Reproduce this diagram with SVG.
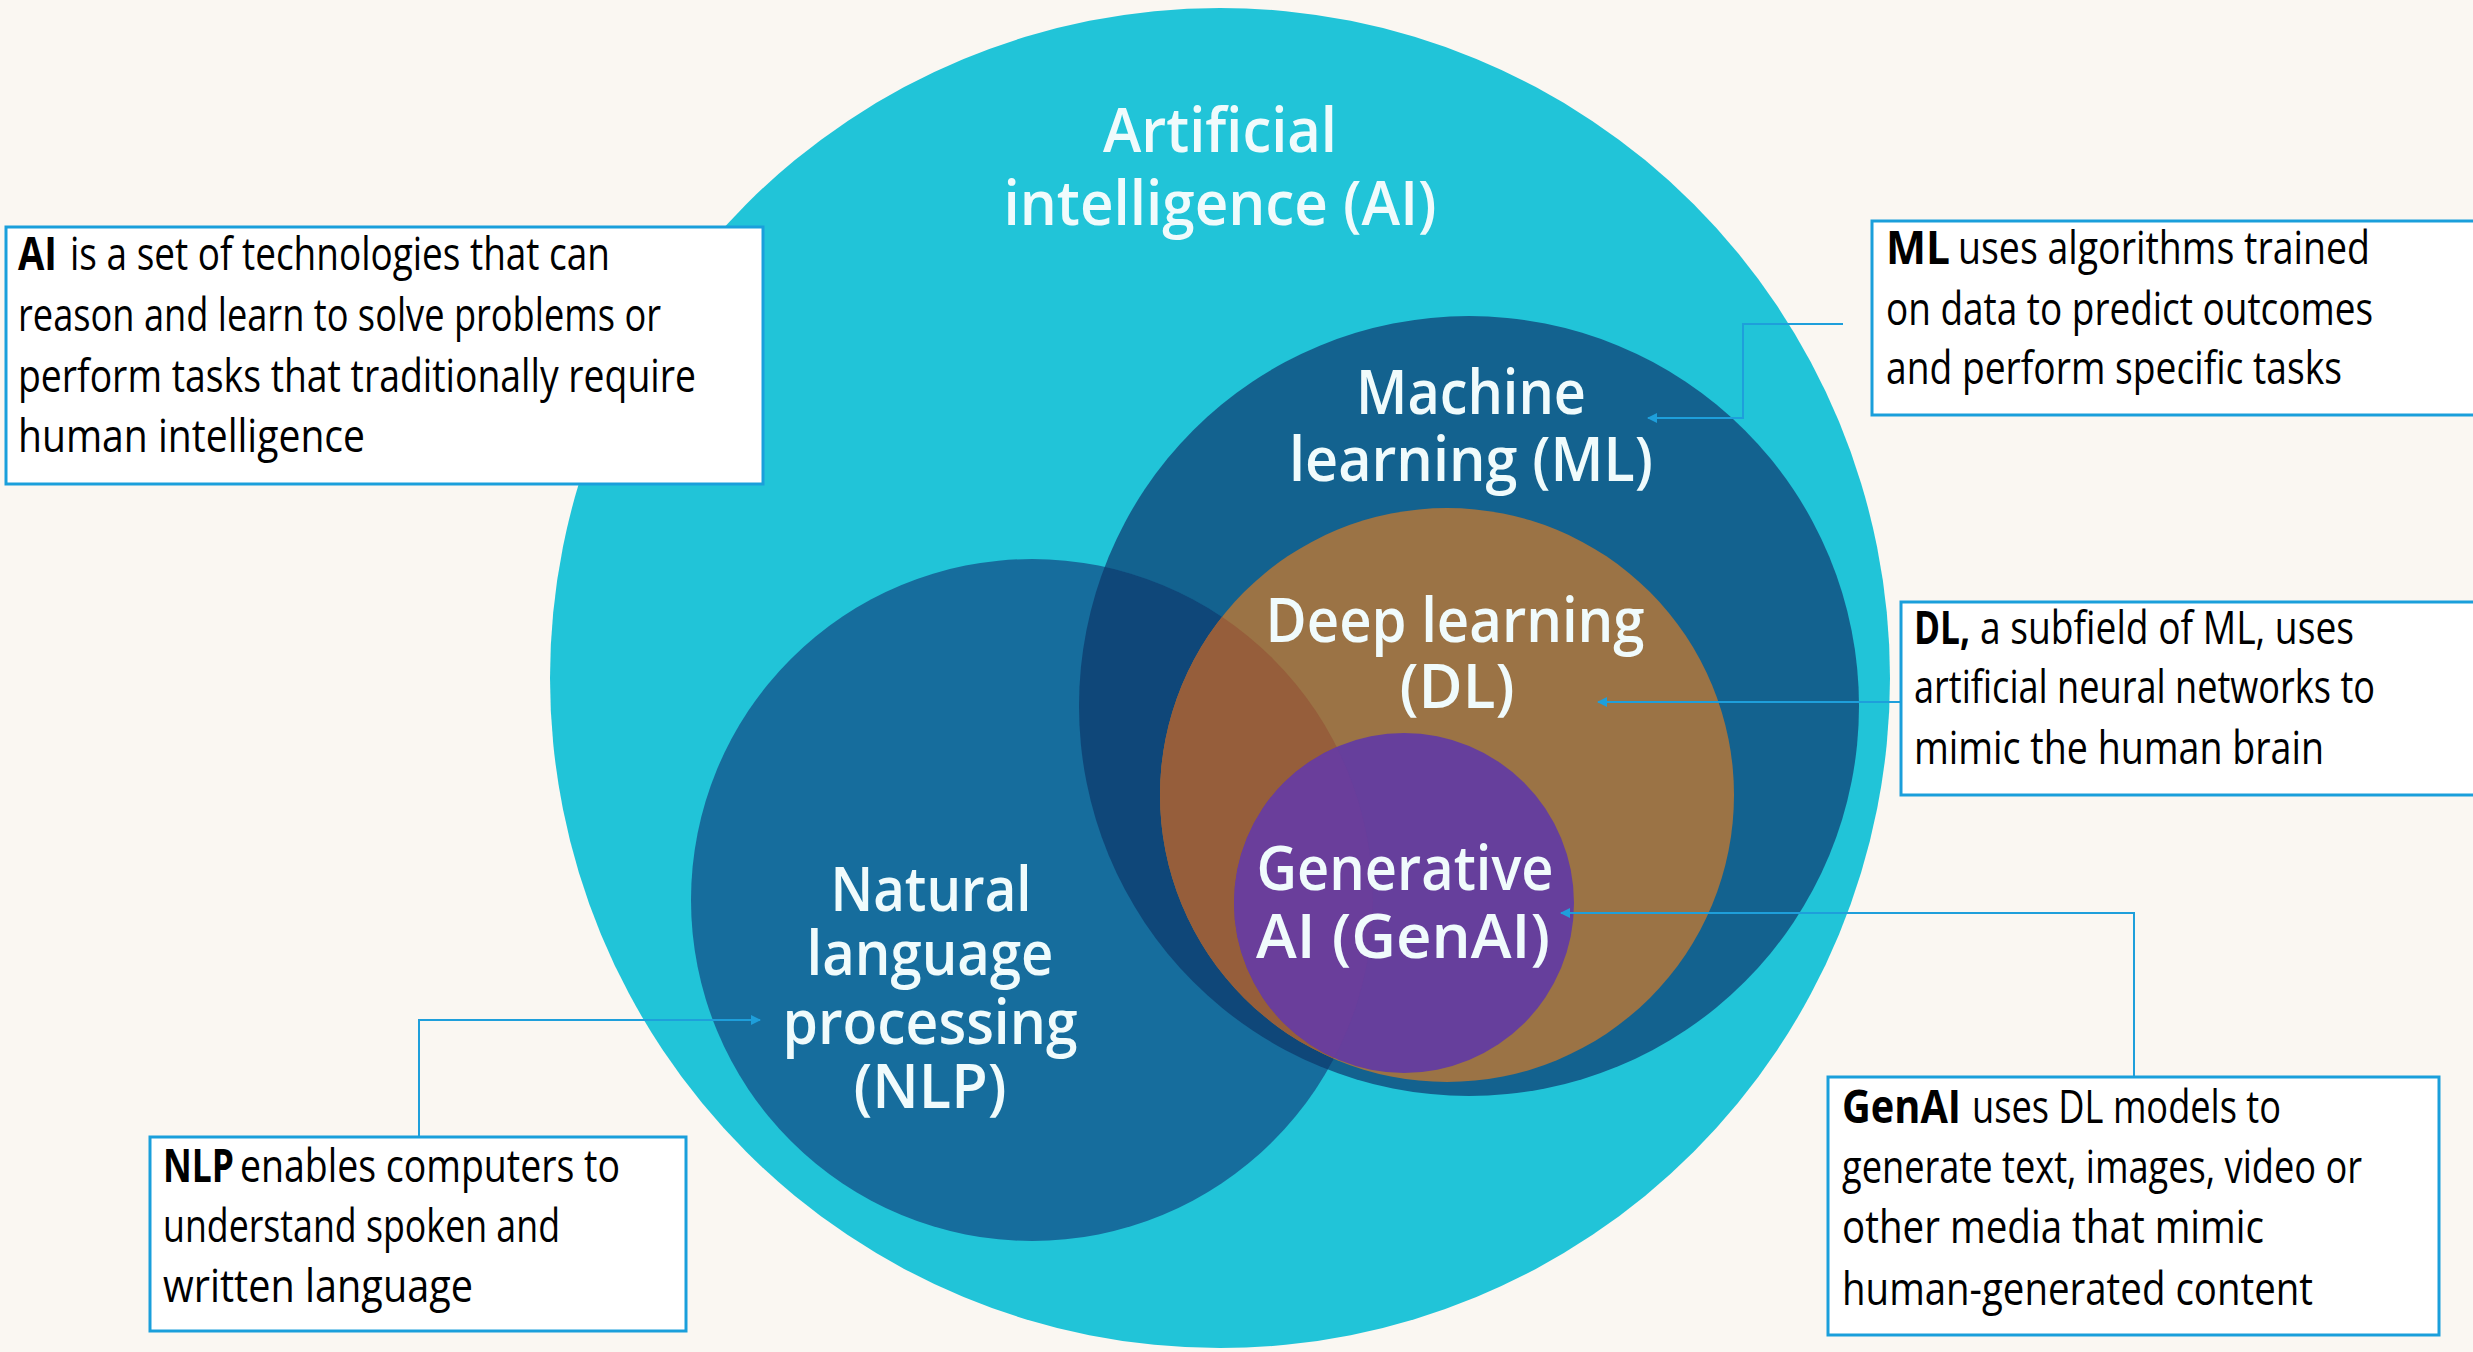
<svg xmlns="http://www.w3.org/2000/svg" width="2473" height="1352" viewBox="0 0 2473 1352">
<style>
.lbl{font-family:"Open Sans","Noto Sans",sans-serif;font-weight:600;font-size:62px;fill:#F0FBFC;text-anchor:middle}
.box{fill:#FFFFFF;stroke:#1A9FDB;stroke-width:3}
.t{font-family:"Liberation Sans Narrow","Open Sans","Noto Sans",sans-serif;font-size:46px;fill:#000000}
.b{font-weight:700}
.conn{fill:none;stroke:#1E9FDB;stroke-width:2}
</style>
<defs>
<clipPath id="clipNLP"><circle cx="1032" cy="900" r="341"/></clipPath>
<marker id="arr" viewBox="0 0 10 10" refX="9" refY="5" markerWidth="5" markerHeight="5" orient="auto" markerUnits="strokeWidth">
<path d="M0,0 L10,5 L0,10 z" fill="#1E9FDB"/>
</marker>
</defs>
<rect x="0" y="0" width="2473" height="1352" fill="#FAF7F2"/>
<g id="node-ai">
<circle cx="1220" cy="678" r="670" fill="#21C4D8"/>
<text class="lbl" x="1220" y="152" textLength="234" lengthAdjust="spacingAndGlyphs">Artificial</text>
<text class="lbl" x="1220" y="225" textLength="433" lengthAdjust="spacingAndGlyphs">intelligence (AI)</text>
</g>
<g id="node-ml">
<circle cx="1469" cy="706" r="390" fill="#13628F"/>
<text class="lbl" x="1471" y="414" textLength="230" lengthAdjust="spacingAndGlyphs">Machine</text>
<text class="lbl" x="1471" y="481" textLength="364" lengthAdjust="spacingAndGlyphs">learning (ML)</text>
</g>
<g id="node-nlp">
<circle cx="1032" cy="900" r="341" fill="#166D9D"/>
<circle cx="1469" cy="706" r="390" fill="#0F4779" clip-path="url(#clipNLP)"/>
<text class="lbl" x="931" y="911" textLength="201" lengthAdjust="spacingAndGlyphs">Natural</text>
<text class="lbl" x="930" y="975" textLength="247" lengthAdjust="spacingAndGlyphs">language</text>
<text class="lbl" x="930" y="1044" textLength="295" lengthAdjust="spacingAndGlyphs">processing</text>
<text class="lbl" x="930" y="1108" textLength="153" lengthAdjust="spacingAndGlyphs">(NLP)</text>
</g>
<g id="node-dl">
<circle cx="1447" cy="795" r="287" fill="#9B7345"/>
<circle cx="1447" cy="795" r="287" fill="#965E3B" clip-path="url(#clipNLP)"/>
<text class="lbl" x="1455" y="642" textLength="379" lengthAdjust="spacingAndGlyphs">Deep learning</text>
<text class="lbl" x="1457" y="708" textLength="115" lengthAdjust="spacingAndGlyphs">(DL)</text>
</g>
<g id="node-genai">
<circle cx="1404" cy="903" r="170" fill="#663F9C"/>
<circle cx="1404" cy="903" r="170" fill="#6A3E9B" clip-path="url(#clipNLP)"/>
<text class="lbl" x="1405" y="890" textLength="297" lengthAdjust="spacingAndGlyphs">Generative</text>
<text class="lbl" x="1403" y="958" textLength="294" lengthAdjust="spacingAndGlyphs">AI (GenAI)</text>
</g>
<g id="connectors">
<path class="conn" d="M1843,324 H1743 V418 H1648" marker-end="url(#arr)"/>
<path class="conn" d="M1901,702 H1598" marker-end="url(#arr)"/>
<path class="conn" d="M2134,1077 V913 H1561" marker-end="url(#arr)"/>
<path class="conn" d="M419,1137 V1020 H760" marker-end="url(#arr)"/>
</g>
<g id="callout-ai">
<rect class="box" x="6" y="227" width="757" height="257"/>
<text class="t b" x="18" y="270" textLength="39" lengthAdjust="spacingAndGlyphs">AI</text>
<text class="t" x="70" y="270" textLength="540" lengthAdjust="spacingAndGlyphs">is a set of technologies that can</text>
<text class="t" x="18" y="331" textLength="643" lengthAdjust="spacingAndGlyphs">reason and learn to solve problems or</text>
<text class="t" x="18" y="392" textLength="678" lengthAdjust="spacingAndGlyphs">perform tasks that traditionally  require</text>
<text class="t" x="18" y="452" textLength="347" lengthAdjust="spacingAndGlyphs">human intelligence</text>
</g>
<g id="callout-ml">
<rect class="box" x="1872" y="221" width="605" height="194"/>
<text class="t b" x="1886" y="264" textLength="64" lengthAdjust="spacingAndGlyphs">ML</text>
<text class="t" x="1958" y="264" textLength="412" lengthAdjust="spacingAndGlyphs">uses algorithms trained</text>
<text class="t" x="1886" y="325" textLength="487" lengthAdjust="spacingAndGlyphs">on data to predict outcomes</text>
<text class="t" x="1886" y="384" textLength="456" lengthAdjust="spacingAndGlyphs">and perform specific tasks</text>
</g>
<g id="callout-dl">
<rect class="box" x="1901" y="602" width="576" height="193"/>
<text class="t b" x="1914" y="644" textLength="56" lengthAdjust="spacingAndGlyphs">DL,</text>
<text class="t" x="1980" y="644" textLength="374" lengthAdjust="spacingAndGlyphs">a subfield of ML, uses</text>
<text class="t" x="1914" y="703" textLength="461" lengthAdjust="spacingAndGlyphs">artificial neural networks to</text>
<text class="t" x="1914" y="764" textLength="410" lengthAdjust="spacingAndGlyphs">mimic the human brain</text>
</g>
<g id="callout-genai">
<rect class="box" x="1828" y="1077" width="611" height="258"/>
<text class="t b" x="1842" y="1123" textLength="119" lengthAdjust="spacingAndGlyphs">GenAI</text>
<text class="t" x="1972" y="1123" textLength="309" lengthAdjust="spacingAndGlyphs">uses DL models to</text>
<text class="t" x="1842" y="1183" textLength="520" lengthAdjust="spacingAndGlyphs">generate text, images, video or</text>
<text class="t" x="1842" y="1243" textLength="422" lengthAdjust="spacingAndGlyphs">other media that mimic</text>
<text class="t" x="1842" y="1305" textLength="471" lengthAdjust="spacingAndGlyphs">human-generated content</text>
</g>
<g id="callout-nlp">
<rect class="box" x="150" y="1137" width="536" height="194"/>
<text class="t b" x="163" y="1182" textLength="71" lengthAdjust="spacingAndGlyphs">NLP</text>
<text class="t" x="240" y="1182" textLength="380" lengthAdjust="spacingAndGlyphs">enables computers to</text>
<text class="t" x="163" y="1242" textLength="397" lengthAdjust="spacingAndGlyphs">understand spoken and</text>
<text class="t" x="163" y="1302" textLength="310" lengthAdjust="spacingAndGlyphs">written language</text>
</g>
</svg>
